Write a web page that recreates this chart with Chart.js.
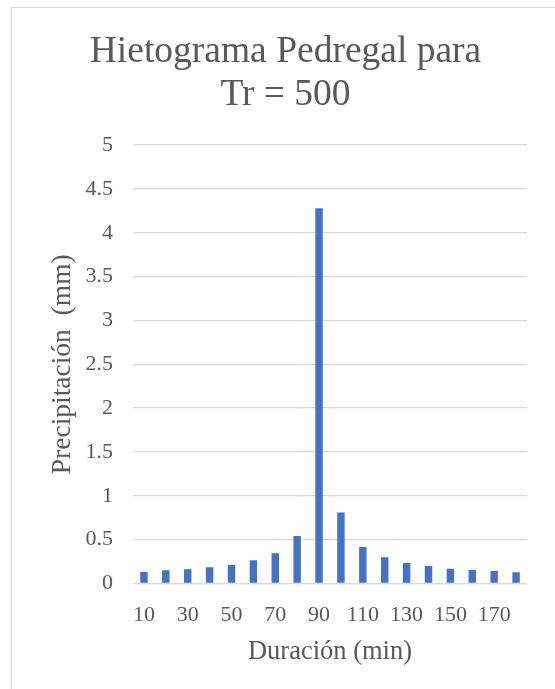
<!DOCTYPE html>
<html>
<head>
<meta charset="utf-8">
<script src="https://cdn.jsdelivr.net/npm/chart.js@4.4.1/dist/chart.umd.min.js"></script>
<style>
  html, body { margin: 0; padding: 0; background: #fff; overflow: hidden; }
  #frame { position: absolute; left: 11px; top: 7px; width: 620px; height: 720px; border: 1px solid #d9d9d9; }
  #chart { position: absolute; left: 0; top: 0; }
</style>
</head>
<body>
<div id="frame"></div>
<canvas id="chart" width="555" height="689"></canvas>
<script>
// duration (min) and rainfall (mm)
var duraciones = [10, 20, 30, 40, 50, 60, 70, 80, 90, 100, 110, 120, 130, 140, 150, 160, 170, 180];
var precipitacion = [0.131, 0.150, 0.162, 0.185, 0.211, 0.264, 0.344, 0.541, 4.28, 0.811, 0.416, 0.298, 0.233, 0.199, 0.169, 0.154, 0.142, 0.128];
var tituloLineas = ['Hietograma Pedregal para', 'Tr = 500'];

var textColor = '#595959';
var serif = "'Liberation Serif', 'Times New Roman', serif";

var ctx = document.getElementById('chart').getContext('2d');

new Chart(ctx, {
    type: 'bar',
    data: {
        labels: duraciones,
        datasets: [{
            label: 'Precipitación',
            data: precipitacion,
            backgroundColor: '#4472c4',
            borderWidth: 0,
            categoryPercentage: 0.34,
            barPercentage: 1
        }]
    },
    options: {
        responsive: false,
        animation: false,
        layout: { padding: { left: 44, right: 28, top: 8, bottom: 0 } },
        plugins: {
            legend: { display: false },
            tooltip: { enabled: false },
            title: {
                display: true,
                text: tituloLineas,
                color: textColor,
                font: { family: serif, size: 37.5, weight: 'normal', lineHeight: 1.155 },
                padding: { top: 22, bottom: 28.4 }
            }
        },
        scales: {
            x: {
                afterFit: function (scale) { scale.height = 105.5; },
                grid: { display: false, drawTicks: false },
                border: { display: false },
                ticks: {
                    autoSkip: false,
                    maxRotation: 0,
                    padding: 19,
                    color: textColor,
                    font: { family: serif, size: 22 },
                    callback: function (value, index) {
                        return index % 2 === 0 ? this.getLabelForValue(value) : '';
                    }
                },
                title: {
                    display: true,
                    text: 'Duración (min)',
                    color: textColor,
                    font: { family: serif, size: 26.5, lineHeight: 1.2 },
                    padding: { top: 0, bottom: 21 }
                }
            },
            y: {
                min: 0,
                max: 5,
                afterFit: function (scale) { scale.width = 89; },
                grid: { color: '#d9d9d9', lineWidth: 1.3, drawTicks: false },
                border: { display: false },
                ticks: {
                    stepSize: 0.5,
                    padding: 20,
                    color: textColor,
                    font: { family: serif, size: 22 },
                    callback: function (value) { return String(Number(value)); }
                },
                title: {
                    display: true,
                    text: 'Precipitación  (mm)',
                    color: textColor,
                    font: { family: serif, size: 27.5, lineHeight: 1.2 },
                    padding: { top: 2, bottom: 0 }
                }
            }
        }
    }
});
</script>
</body>
</html>
